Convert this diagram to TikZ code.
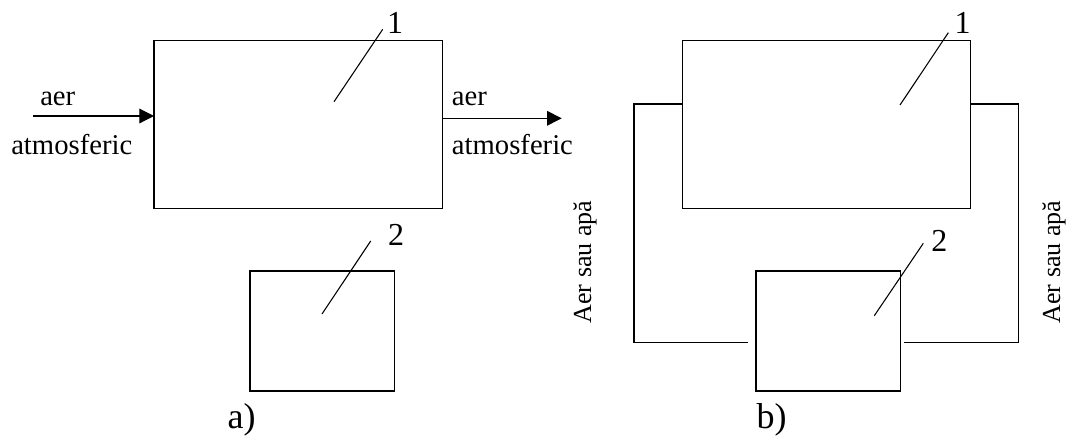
\documentclass[tikz,border=0pt]{standalone}
\usepackage{fontspec}
\setmainfont{Liberation Serif}
\usetikzlibrary{arrows.meta}
\begin{document}
\begin{tikzpicture}[x=0.75pt,y=-0.75pt,
  box/.style={draw,line width=0.9pt,inner sep=0pt,outer sep=0pt,anchor=north west},
  bigbox/.style={box,minimum width=216.4pt,minimum height=126pt},
  smallbox/.style={box,minimum width=108.2pt,minimum height=90pt},
  pipe/.style={line width=0.9pt},
  flow/.style={line width=0.9pt,-{Triangle[length=11pt,width=11pt]}},
  leader/.style={line width=0.8pt},
  lbl/.style={font=\fontsize{21.5pt}{24pt}\selectfont,inner sep=0pt,anchor=base west},
  num/.style={font=\fontsize{24pt}{28pt}\selectfont,inner sep=0pt,anchor=base},
  captxt/.style={font=\fontsize{27pt}{30pt}\selectfont,inner sep=0pt,anchor=base},
  vlbl/.style={font=\fontsize{19.5pt}{22pt}\selectfont,inner sep=0pt,rotate=90}]
\useasboundingbox (0,0) rectangle (1070,437);
% ---- a) ----
\node[bigbox] (b1a) at (154,40.7) {};
\node[smallbox] (b2a) at (250,271) {};
\coordinate (ain) at (33,116);
\coordinate (aout) at (561.7,118.3);
\draw[flow] (ain) -- (ain -| b1a.west);
\draw[flow] (aout -| b1a.east) -- (aout);
\node[lbl] (t1) at (40,105) {aer};
\node[lbl] (t2) at (11,154) {atmosferic};
\node[lbl] (t3) at (451.7,105) {aer};
\node[lbl] (t4) at (451.7,154) {atmosferic};
\coordinate (l1a) at (334,101.7);
\coordinate (l1b) at (382.7,29.3);
\draw[leader] (l1a) -- (l1b);
\node[num] (n1a) at (395,33.3) {1};
\coordinate (l2a) at (322,314);
\coordinate (l2b) at (370.7,241);
\draw[leader] (l2a) -- (l2b);
\node[num] (n2a) at (396,245) {2};
\node[captxt] (capa) at (241.5,428) {a)};
% ---- b) ----
\node[bigbox] (b1b) at (682.3,40.7) {};
\node[smallbox] (b2b) at (756,271) {};
\coordinate (pl1) at (634,104);
\coordinate (pl2) at (634,342.7);
\coordinate (pl3) at (748.3,342.7);
\draw[pipe] (pl1 -| b1b.west) -- (pl1) -- (pl2) -- (pl3);
\coordinate (pr1) at (1018.7,104);
\coordinate (pr2) at (1018.7,342.7);
\coordinate (pr3) at (904.3,342.7);
\draw[pipe] (pr1 -| b1b.east) -- (pr1) -- (pr2) -- (pr3);
\node[vlbl] (vl) at (585,262) {Aer sau apă};
\node[vlbl] (vr) at (1054,262) {Aer sau apă};
\coordinate (m1a) at (900,105);
\coordinate (m1b) at (948.3,32.7);
\draw[leader] (m1a) -- (m1b);
\node[num] (n1b) at (962.7,33.3) {1};
\coordinate (m2a) at (874.3,315.7);
\coordinate (m2b) at (923.3,243.3);
\draw[leader] (m2a) -- (m2b);
\node[num] (n2b) at (939.3,251) {2};
\node[captxt] (capb) at (771.7,428) {b)};
\end{tikzpicture}
\end{document}
